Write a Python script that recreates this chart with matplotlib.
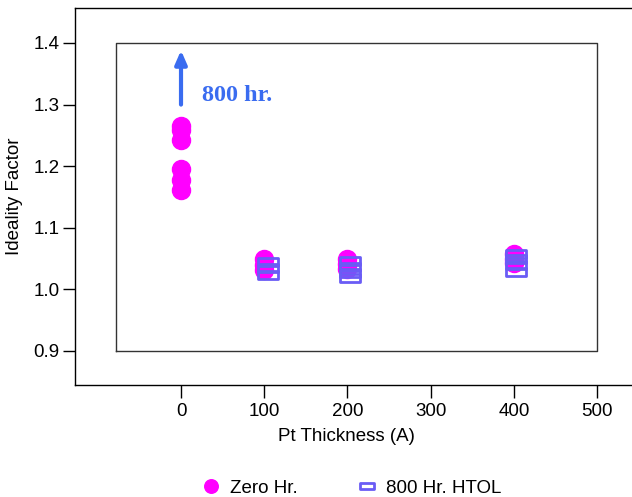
import matplotlib
matplotlib.use("Agg")
import matplotlib.pyplot as plt
from matplotlib.path import Path
import numpy as np

plt.rcParams['font.family'] = ['Liberation Sans', 'DejaVu Sans']

# Zero hour measurements (Pt thickness in A, ideality factor)
zero_x = [0, 0, 0, 0, 0, 0, 100, 100, 100, 200, 200, 200, 400, 400, 400]
zero_y = [1.265, 1.259, 1.243, 1.195, 1.178, 1.161,
          1.050, 1.040, 1.031,
          1.050, 1.041, 1.033,
          1.057, 1.050, 1.043]

# after 800 hr HTOL
htol_x = [104, 104, 104, 203, 203, 203, 203, 402, 402, 402, 402]
htol_y = [1.045, 1.035, 1.024,
          1.046, 1.037, 1.027, 1.019,
          1.057, 1.049, 1.040, 1.029]

xticks = [0, 100, 200, 300, 400, 500]
yticks = [0.9, 1.0, 1.1, 1.2, 1.3, 1.4]

magenta = '#ff00ff'
purple = '#6a5cf5'
blue = '#3a6cf0'

# wide open rectangle marker
rect = Path([(-1, -0.4), (1, -0.4), (1, 0.4), (-1, 0.4), (-1, -0.4)],
            [Path.MOVETO, Path.LINETO, Path.LINETO, Path.LINETO, Path.CLOSEPOLY])

fig = plt.figure(figsize=(6.32, 4.97), dpi=100)
ax = fig.add_axes([75/632, 1-385/497, 557/632, 377/497])

ax.plot(zero_x, zero_y, linestyle='none', marker='o', markersize=13,
        color=magenta, markeredgecolor=magenta, label='Zero Hr.', zorder=3)
ax.plot(htol_x, htol_y, linestyle='none', marker=rect, markersize=14,
        markerfacecolor='none', markeredgecolor=purple, markeredgewidth=2,
        label='800 Hr. HTOL', zorder=4)

# inner frame
ax.plot([-78, 500, 500, -78, -78], [0.9, 0.9, 1.4, 1.4, 0.9],
        color='#333333', lw=1, zorder=1)

# arrow + note
ax.annotate('', xy=(0, 1.388), xytext=(0, 1.3),
            arrowprops=dict(arrowstyle='-|>,head_length=0.8,head_width=0.35',
                            color=blue, lw=3, shrinkA=0, shrinkB=0))
ax.text(25, 1.315, '800 hr.', color=blue, fontsize=17.5, fontweight='bold',
        family=['Liberation Serif', 'DejaVu Serif'], va='center', ha='left')

ax.set_xlim(-127.4, 542)
ax.set_ylim(0.8448, 1.4568)
ax.set_xticks(xticks)
ax.set_xticklabels([str(t) for t in xticks])
ax.set_yticks(yticks)
ax.set_yticklabels(['%.1f' % t for t in yticks])
ax.tick_params(direction='out', length=9, width=1, labelsize=13.5)
ax.tick_params(axis='x', pad=4)
ax.tick_params(axis='y', pad=2)

ax.spines['right'].set_visible(False)
for s in ['left', 'bottom', 'top']:
    ax.spines[s].set_linewidth(1)

ax.set_xlabel('Pt Thickness (A)', fontsize=13.5)
ax.xaxis.set_label_coords((346-75)/557, -(428-385)/377)
ax.set_ylabel('Ideality Factor', fontsize=13.5)
ax.yaxis.set_label_coords(-(75-23)/557, 0.5)

fig.legend(loc='center', bbox_to_anchor=(351/632, 1-488/497), ncol=2,
           frameon=False, fontsize=13.5, columnspacing=3.1, handletextpad=0.5,
           handlelength=1.1, markerscale=0.75)

fig.savefig('out.png', dpi=100)
